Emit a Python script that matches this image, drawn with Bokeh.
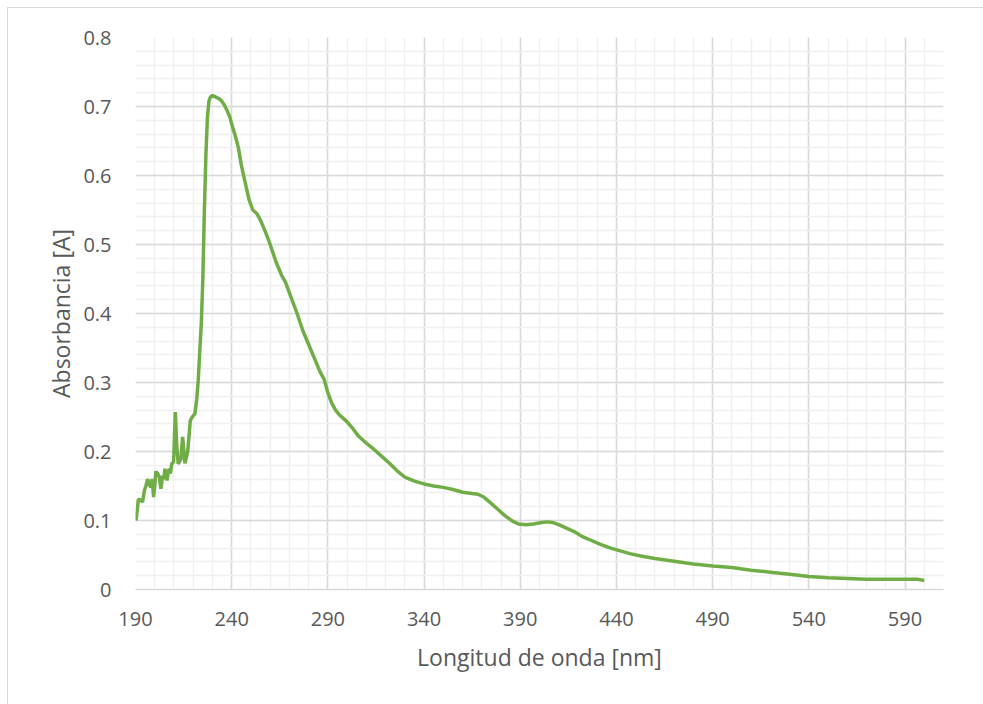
from bokeh.plotting import figure
from bokeh.models import FixedTicker, Range1d
from bokeh.embed import file_html
from bokeh.resources import INLINE

# Data
wavelength = [190.3, 191.5, 192.5, 193.7, 194.6, 195.4, 196.3, 197.2, 198.0, 198.7, 199.4, 200.0,
              200.6, 201.5, 202.4, 203.2, 204.1, 204.7, 205.3, 206.4, 207.0, 207.6, 208.2, 208.8,
              209.8, 210.7, 211.4, 212.2, 213.0, 213.6, 214.5, 215.7, 217.1, 218.5, 219.5, 220.9,
              221.8, 222.6, 223.5, 224.2, 225.0, 225.8, 226.6, 227.4, 228.2, 229.0, 230.0, 231.5,
              233.0, 234.5, 236.0, 237.5, 239.0, 240.5, 242.0, 243.5, 245.0, 247.0, 249.0, 251.0,
              253.0, 255.0, 258.0, 260.0, 263.0, 266.0, 268.0, 270.0, 274.0, 277.0, 280.0, 283.0,
              286.0, 288.0, 290.0, 292.0, 294.0, 296.0, 298.0, 300.0, 303.0, 306.0, 310.0, 314.0,
              318.0, 322.0, 326.0, 330.0, 335.0, 340.0, 345.0, 350.0, 355.0, 360.0, 365.0, 368.0,
              371.0, 374.0, 378.0, 382.0, 386.0, 389.0, 393.0, 397.0, 401.0, 404.0, 407.0, 410.0,
              414.0, 418.0, 422.0, 427.0, 432.0, 437.0, 442.0, 447.0, 452.0, 460.0, 470.0, 480.0,
              490.0, 500.0, 510.0, 520.0, 530.0, 540.0, 550.0, 560.0, 570.0, 580.0, 590.0, 596.0,
              600.0]
absorbance = [0.100, 0.131, 0.130, 0.127, 0.143, 0.150, 0.160, 0.152, 0.148, 0.160, 0.134, 0.150,
              0.171, 0.168, 0.163, 0.146, 0.165, 0.160, 0.175, 0.158, 0.170, 0.175, 0.168, 0.182,
              0.185, 0.257, 0.210, 0.182, 0.186, 0.189, 0.221, 0.183, 0.199, 0.245, 0.250, 0.255,
              0.275, 0.303, 0.350, 0.385, 0.450, 0.550, 0.630, 0.685, 0.708, 0.714, 0.716, 0.714,
              0.712, 0.709, 0.703, 0.695, 0.685, 0.670, 0.656, 0.640, 0.615, 0.590, 0.565, 0.550,
              0.545, 0.535, 0.515, 0.500, 0.475, 0.455, 0.445, 0.430, 0.400, 0.375, 0.355, 0.335,
              0.315, 0.305, 0.285, 0.270, 0.260, 0.253, 0.248, 0.243, 0.233, 0.222, 0.212, 0.203,
              0.193, 0.183, 0.172, 0.163, 0.157, 0.153, 0.150, 0.148, 0.145, 0.141, 0.139, 0.138,
              0.134, 0.127, 0.117, 0.107, 0.099, 0.095, 0.094, 0.095, 0.097, 0.098, 0.097, 0.094,
              0.089, 0.084, 0.077, 0.071, 0.065, 0.060, 0.056, 0.052, 0.049, 0.045, 0.041, 0.037,
              0.034, 0.032, 0.028, 0.025, 0.022, 0.019, 0.017, 0.016, 0.015, 0.015, 0.015, 0.015,
              0.013]

x_ticks = [190, 240, 290, 340, 390, 440, 490, 540, 590]
x_minor = list(range(190, 611, 10))
y_ticks = [0, 0.1, 0.2, 0.3, 0.4, 0.5, 0.6, 0.7, 0.8]
y_tick_labels = ["0", "0.1", "0.2", "0.3", "0.4", "0.5", "0.6", "0.7", "0.8"]
y_minor = [round(i * 0.02, 2) for i in range(41)]

FONT = "Open Sans"
GREY = "#595959"

p = figure(width=976, height=697, output_backend="svg", toolbar_location=None,
           x_range=Range1d(190, 610), y_range=Range1d(0, 0.8),
           min_border_left=127, min_border_right=41, min_border_top=29, min_border_bottom=116,
           frame_width=808, frame_height=552, margin=(7, 0, 0, 7))
p.styles = {"border-top": "1.5px solid #d9d9d9", "border-left": "1.5px solid #d9d9d9",
            "box-sizing": "border-box"}
p.outline_line_color = None
p.background_fill_color = "white"
p.border_fill_color = "white"

p.line(wavelength, absorbance, line_color="#70AD47", line_width=3.5)

p.xaxis.ticker = FixedTicker(ticks=x_ticks, minor_ticks=x_minor)
p.yaxis.ticker = FixedTicker(ticks=y_ticks, minor_ticks=y_minor)
p.yaxis.major_label_overrides = {t: l for t, l in zip(y_ticks, y_tick_labels)}

for ax in (p.xaxis[0], p.yaxis[0]):
    ax.major_tick_line_color = None
    ax.minor_tick_line_color = None
    ax.major_label_text_font = FONT
    ax.major_label_text_font_size = "20px"
    ax.major_label_text_color = GREY
    ax.axis_label_text_font = FONT
    ax.axis_label_text_font_size = "23px"
    ax.axis_label_text_font_style = "normal"
    ax.axis_label_text_color = GREY

p.xaxis.axis_line_color = "#d9d9d9"
p.xaxis.axis_line_width = 1.5
p.yaxis.axis_line_color = None
p.xaxis.axis_label = "Longitud de onda [nm]"
p.yaxis.axis_label = "Absorbancia [A]"
p.xaxis.major_label_standoff = 16
p.yaxis.major_label_standoff = 18
p.xaxis.axis_label_standoff = 12
p.yaxis.axis_label_standoff = 3

for g in (p.xgrid[0], p.ygrid[0]):
    g.grid_line_color = "#d9d9d9"
    g.grid_line_width = 1.5
    g.minor_grid_line_color = "#f0f0f0"
    g.minor_grid_line_width = 1.5

open("out.html", "w").write(file_html(p, INLINE))
